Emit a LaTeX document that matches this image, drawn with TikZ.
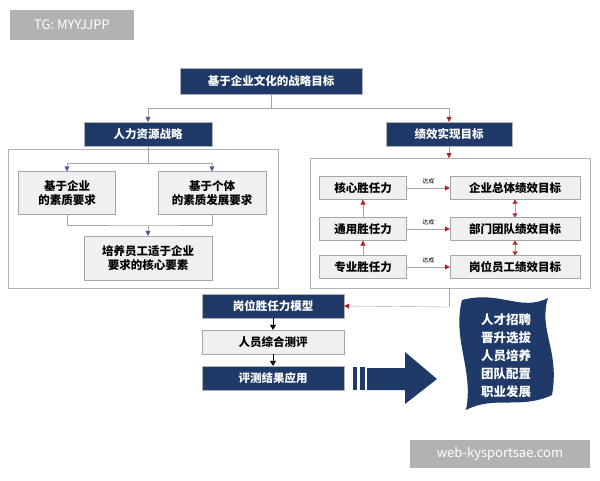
\documentclass[tikz,border=0pt]{standalone}
\usepackage{fontspec}
\setmainfont{Noto Sans CJK SC}
\usetikzlibrary{arrows.meta, positioning, calc}
\definecolor{hrnavy}{RGB}{31, 58, 104}
\definecolor{hrred}{RGB}{180, 30, 40}
\definecolor{hrblue}{RGB}{70, 90, 150}
\newcommand{\boxfont}{\fontsize{11.5}{14.5}\selectfont\bfseries}

\begin{document}
\begin{tikzpicture}[x=1pt, y=-1pt,
  navy/.style={rectangle, draw=gray!60, fill=hrnavy, text=white, font=\boxfont, inner sep=0pt},
  lite/.style={rectangle, draw=gray!70, fill=gray!12, font=\boxfont, inner sep=0pt, align=center},
  panel/.style={draw=gray!60, line width=0.8pt},
  bluearr/.style={draw=gray!70, -{Triangle[length=5pt,width=5pt,color=hrblue]}},
  redarr/.style={draw=gray!70, -{Triangle[length=5pt,width=5pt,color=hrred]}},
  dblarr/.style={draw=gray!70, {Triangle[length=4pt,width=5pt,color=hrred]}-{Triangle[length=4pt,width=5pt,color=hrred]}},
  blackarr/.style={draw=black, -{Triangle[length=5pt,width=6pt]}}]
\useasboundingbox (0,0) rectangle (600,480);
\fill[white] (0,0) rectangle (600,480);

% Watermark tags
\node[fill=gray!60, text=white, font=\fontsize{13}{15}\selectfont, minimum width=124pt, minimum height=30pt] (tag) at (72,25) {TG: MYYJJPP};
\node[fill=gray!60, text=white, font=\fontsize{13}{15}\selectfont, minimum width=180pt, minimum height=28pt] (web) at (500,454) {web-kysportsae.com};

% Top level
\node[navy, minimum width=182pt, minimum height=26pt] (goal) at (271,81) {基于企业文化的战略目标};
\node[navy, minimum width=128pt, minimum height=24pt] (hr) at (148,134) {人力资源战略};
\node[navy, minimum width=126pt, minimum height=24pt] (perf) at (449,134) {绩效实现目标};
\coordinate (split) at (271,108);
\draw[bluearr] (goal.south) -- (split) -| (hr.north);
\draw[redarr] (split) -| (perf.north);

% Left panel
\draw[panel] (8,149) rectangle (278,288);
\node[lite, minimum width=97pt, minimum height=43pt] (corp) at (67,193) {基于企业\\的素质要求};
\node[lite, minimum width=108pt, minimum height=43pt] (indiv) at (212,193) {基于个体\\的素质发展要求};
\node[lite, minimum width=128pt, minimum height=44pt] (core) at (148,258) {培养员工适于企业\\要求的核心要素};
\coordinate (lsplit) at (148,163);
\draw[draw=gray!70] (hr.south) -- (lsplit);
\draw[bluearr] (lsplit) -| (corp.north);
\draw[bluearr] (lsplit) -| (indiv.north);
\coordinate (ljoin) at (148,225);
\draw[draw=gray!70] (corp.south) |- (ljoin) -| (indiv.south);
\draw[bluearr] (ljoin) -- (core.north);

% Right panel
\draw[panel] (310,158) rectangle (590,288);
\draw[redarr] (perf.south) -- (449,158);
\foreach \name/\txt/\yy in {kc/核心胜任力/188, kg/通用胜任力/229, kz/专业胜任力/267}
  \node[lite, minimum width=87pt, minimum height=23pt] (\name) at (363,\yy) {\txt};
\foreach \name/\txt/\yy in {tc/企业总体绩效目标/188, tg/部门团队绩效目标/229, tz/岗位员工绩效目标/267}
  \node[lite, minimum width=130pt, minimum height=23pt] (\name) at (515,\yy) {\txt};
\foreach \a/\b in {kc/tc, kg/tg, kz/tz}
  \draw[redarr] (\a) -- node[above, font=\fontsize{6}{7}\selectfont, text=black] {达成} (\b);
\draw[redarr] (kg) -- (kc);
\draw[redarr] (kz) -- (kg);
\draw[dblarr] (tc) -- (tg);
\draw[dblarr] (tg) -- (tz);

% Lower chain
\node[navy, minimum width=142pt, minimum height=24pt] (model) at (273,306) {岗位胜任力模型};
\node[lite, minimum width=142pt, minimum height=24pt] (eval) at (273,342) {人员综合测评};
\node[navy, minimum width=142pt, minimum height=24pt] (apply) at (273,378) {评测结果应用};
\coordinate (rdown) at (449,307);
\draw[draw=gray!70] (449,288) -- (rdown);
\draw[redarr] (rdown) -- (model.east);
\draw[blackarr] (model) -- (eval);
\draw[blackarr] (eval) -- (apply);

% Block arrow
\fill[hrnavy] (353,367) rectangle (357,390);
\fill[hrnavy] (360,367) rectangle (365,390);
\fill[hrnavy] (367,368) -- (405,368) -- (405,352) -- (437,379) -- (405,404) -- (405,390) -- (367,390) -- cycle;

% Banner
\fill[hrnavy] (462,300) .. controls (500,290) and (520,312) .. (548,298)
  .. controls (538,330) and (560,350) .. (552,395)
  .. controls (520,410) and (495,395) .. (466,410)
  .. controls (474,370) and (452,340) .. (462,300) -- cycle;
\node[text=white, font=\fontsize{12.5}{18}\selectfont\bfseries, align=left] (uses) at (506,356) {人才招聘\\晋升选拔\\人员培养\\团队配置\\职业发展};
\end{tikzpicture}
\end{document}
